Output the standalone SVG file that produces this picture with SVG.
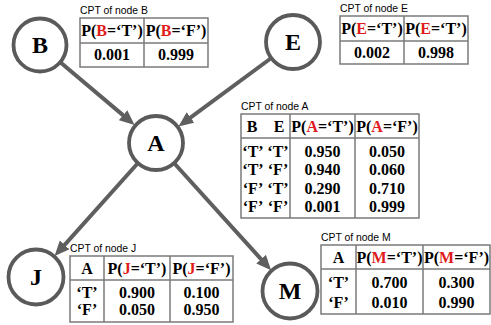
<svg xmlns="http://www.w3.org/2000/svg" width="491" height="325" viewBox="0 0 491 325">
<style>
.node{fill:#fff;stroke:#5a5a5a;stroke-width:3.8}
.lbl{font-family:"Liberation Serif",serif;font-weight:bold;font-size:24px;text-anchor:middle;fill:#000}
.edge{stroke:#5f5f5f;stroke-width:4;fill:none}
.tb{fill:#fff;stroke:#7a7a7a;stroke-width:1.5}
.ln{stroke:#7a7a7a;stroke-width:1.5}
.cap{font-family:"Liberation Sans",Arial,sans-serif;font-size:10.4px;fill:#000}
.h{font-family:"Liberation Serif",serif;font-weight:bold;font-size:16px;text-anchor:middle;fill:#000}
.d{font-family:"Liberation Serif",serif;font-weight:bold;font-size:16px;text-anchor:middle;fill:#000}
.r{fill:#e01b1b}
</style>
<defs>
<marker id="arr" markerUnits="userSpaceOnUse" markerWidth="16" markerHeight="14" refX="6" refY="6.5" orient="auto">
<path d="M0,0 L15,6.5 L0,13 z" fill="#5f5f5f"/>
</marker>
</defs>
<g id="connectors">
<line class="edge" x1="60" y1="62" x2="127.7" y2="119.1" marker-end="url(#arr)"/>
<line class="edge" x1="271.3" y1="58" x2="185.7" y2="121.1" marker-end="url(#arr)"/>
<line class="edge" x1="138" y1="163" x2="60.6" y2="249.4" marker-end="url(#arr)"/>
<line class="edge" x1="174" y1="163" x2="265.1" y2="263.6" marker-end="url(#arr)"/>
</g>
<g id="node-B"><circle class="node" cx="40" cy="45" r="26.5"/><text class="lbl" x="40" y="53">B</text></g>
<g id="node-E"><circle class="node" cx="293" cy="42" r="27"/><text class="lbl" x="293" y="50">E</text></g>
<g id="node-A"><circle class="node" cx="156" cy="143" r="27"/><text class="lbl" x="156" y="151">A</text></g>
<g id="node-J"><circle class="node" cx="36" cy="277" r="27.5"/><text class="lbl" x="36" y="285">J</text></g>
<g id="node-M"><circle class="node" cx="290" cy="291" r="27.5"/><text class="lbl" x="290" y="299">M</text></g>

<g id="cpt-B">
<text class="cap" x="80" y="14">CPT of node B</text>
<rect class="tb" x="80" y="18" width="128" height="49"/>
<line class="ln" x1="80" y1="43" x2="208" y2="43"/>
<line class="ln" x1="144" y1="18" x2="144" y2="67"/>
<text class="h" x="112" y="36">P(<tspan class="r">B</tspan>=‘T’)</text>
<text class="h" x="176" y="36">P(<tspan class="r">B</tspan>=‘F’)</text>
<text class="d" x="112" y="60">0.001</text>
<text class="d" x="176" y="60">0.999</text>
</g>

<g id="cpt-E">
<text class="cap" x="340" y="12">CPT of node E</text>
<rect class="tb" x="340" y="16" width="128" height="48"/>
<line class="ln" x1="340" y1="41" x2="468" y2="41"/>
<line class="ln" x1="404" y1="16" x2="404" y2="64"/>
<text class="h" x="372" y="34">P(<tspan class="r">E</tspan>=‘T’)</text>
<text class="h" x="436" y="34">P(<tspan class="r">E</tspan>=‘T’)</text>
<text class="d" x="372" y="58">0.002</text>
<text class="d" x="436" y="58">0.998</text>
</g>

<g id="cpt-A">
<text class="cap" x="241" y="110">CPT of node A</text>
<rect class="tb" x="241" y="114" width="178" height="104"/>
<line class="ln" x1="241" y1="138" x2="419" y2="138"/>
<line class="ln" x1="290" y1="114" x2="290" y2="218"/>
<line class="ln" x1="355" y1="114" x2="355" y2="218"/>
<text class="h" x="252" y="132">B</text>
<text class="h" x="279" y="132">E</text>
<text class="h" x="322.5" y="132">P(<tspan class="r">A</tspan>=‘T’)</text>
<text class="h" x="387" y="132">P(<tspan class="r">A</tspan>=‘F’)</text>
<text class="d" x="253" y="157">‘T’</text><text class="d" x="278" y="157">‘T’</text>
<text class="d" x="253" y="175">‘T’</text><text class="d" x="278" y="175">‘F’</text>
<text class="d" x="253" y="194">‘F’</text><text class="d" x="278" y="194">‘T’</text>
<text class="d" x="253" y="212">‘F’</text><text class="d" x="278" y="212">‘F’</text>
<text class="d" x="322.5" y="157">0.950</text><text class="d" x="387" y="157">0.050</text>
<text class="d" x="322.5" y="175">0.940</text><text class="d" x="387" y="175">0.060</text>
<text class="d" x="322.5" y="194">0.290</text><text class="d" x="387" y="194">0.710</text>
<text class="d" x="322.5" y="212">0.001</text><text class="d" x="387" y="212">0.999</text>
</g>

<g id="cpt-J">
<text class="cap" x="70" y="252">CPT of node J</text>
<rect class="tb" x="70" y="256" width="163" height="66"/>
<line class="ln" x1="70" y1="280" x2="233" y2="280"/>
<line class="ln" x1="104" y1="256" x2="104" y2="322"/>
<line class="ln" x1="170" y1="256" x2="170" y2="322"/>
<text class="h" x="87" y="274">A</text>
<text class="h" x="137" y="274">P(<tspan class="r">J</tspan>=‘T’)</text>
<text class="h" x="201.5" y="274">P(<tspan class="r">J</tspan>=‘F’)</text>
<text class="d" x="87" y="298">‘T’</text><text class="d" x="137" y="298">0.900</text><text class="d" x="201.5" y="298">0.100</text>
<text class="d" x="87" y="315">‘F’</text><text class="d" x="137" y="315">0.050</text><text class="d" x="201.5" y="315">0.950</text>
</g>

<g id="cpt-M">
<text class="cap" x="321" y="241">CPT of node M</text>
<rect class="tb" x="321" y="245" width="169" height="69"/>
<line class="ln" x1="321" y1="269" x2="490" y2="269"/>
<line class="ln" x1="356" y1="245" x2="356" y2="314"/>
<line class="ln" x1="423" y1="245" x2="423" y2="314"/>
<text class="h" x="338.5" y="263">A</text>
<text class="h" x="389.5" y="263">P(<tspan class="r">M</tspan>=‘T’)</text>
<text class="h" x="456.5" y="263">P(<tspan class="r">M</tspan>=‘F’)</text>
<text class="d" x="338.5" y="288">‘T’</text><text class="d" x="389.5" y="288">0.700</text><text class="d" x="456.5" y="288">0.300</text>
<text class="d" x="338.5" y="308">‘F’</text><text class="d" x="389.5" y="308">0.010</text><text class="d" x="456.5" y="308">0.990</text>
</g>
</svg>
